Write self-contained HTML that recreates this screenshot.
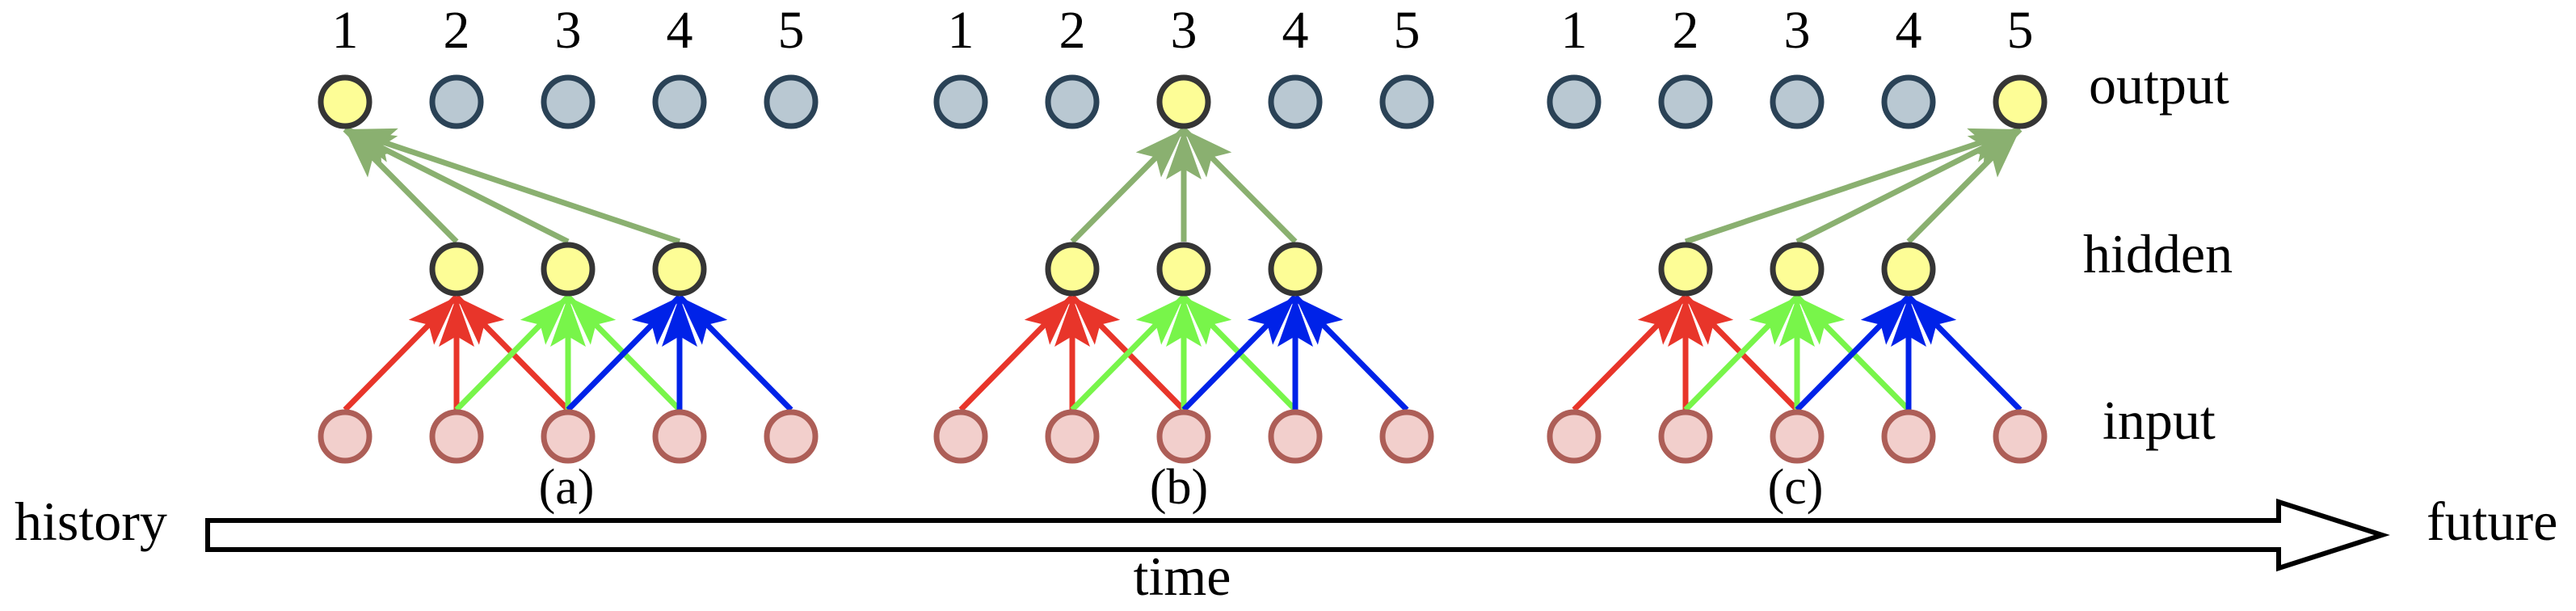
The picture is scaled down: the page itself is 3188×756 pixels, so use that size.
<!DOCTYPE html>
<html><head><meta charset="utf-8"><style>
html,body{margin:0;padding:0;background:#fff;}
svg{display:block;}
text{font-family:"Liberation Serif",serif;fill:#000;}
</style></head><body>
<svg width="3188" height="756" viewBox="0 0 3188 756" xmlns="http://www.w3.org/2000/svg">
<defs>
<marker id="mG" markerUnits="userSpaceOnUse" viewBox="-64 -24 66 48" refX="0" refY="0" markerWidth="66" markerHeight="48" orient="auto"><path d="M0,0 L-62,-22 L-49,0 L-62,22 Z" fill="#8ab070"/></marker>
<marker id="mR" markerUnits="userSpaceOnUse" viewBox="-64 -24 66 48" refX="0" refY="0" markerWidth="66" markerHeight="48" orient="auto"><path d="M0,0 L-62,-22 L-49,0 L-62,22 Z" fill="#e8352a"/></marker>
<marker id="mL" markerUnits="userSpaceOnUse" viewBox="-64 -24 66 48" refX="0" refY="0" markerWidth="66" markerHeight="48" orient="auto"><path d="M0,0 L-62,-22 L-49,0 L-62,22 Z" fill="#78f54a"/></marker>
<marker id="mB" markerUnits="userSpaceOnUse" viewBox="-64 -24 66 48" refX="0" refY="0" markerWidth="66" markerHeight="48" orient="auto"><path d="M0,0 L-62,-22 L-49,0 L-62,22 Z" fill="#0022e8"/></marker>
</defs>
<g id="all"></g>
<script>
(function(){
var NS="http://www.w3.org/2000/svg",g=document.getElementById("all");
function el(t,a,txt){var e=document.createElementNS(NS,t);for(var k in a)e.setAttribute(k,a[k]);if(txt)e.textContent=txt;g.appendChild(e);return e;}
var groups=[[427,0],[1189,2],[1948,4]],S=138,yO=126,yH=333,yI=540,R=30;
groups.forEach(function(gr){
 var x0=gr[0],act=gr[1];
 var cols=[["#e8352a","mR"],["#78f54a","mL"],["#0022e8","mB"]];
 // input->hidden
 for(var h=0;h<3;h++){
  var hx=x0+(h+1)*S;
  for(var d=-1;d<=1;d++){
   var ix=hx+d*S;
   el("line",{x1:ix,y1:yI-R-3,x2:hx,y2:yH+R+4,stroke:cols[h][0],"stroke-width":7,"marker-end":"url(#"+cols[h][1]+")"});
  }
 }
 var ox=x0+act*S;
 for(var h=0;h<3;h++){
  var hx=x0+(h+1)*S;
  el("line",{x1:hx,y1:yH-R-4,x2:ox,y2:yO+R+4,stroke:"#8ab070","stroke-width":7,"marker-end":"url(#mG)"});
 }
 for(var i=0;i<5;i++){
  var x=x0+i*S;
  el("text",{x:x,y:59,"font-size":66,"text-anchor":"middle"},String(i+1));
  if(i==act) el("circle",{cx:x,cy:yO,r:R,fill:"#fdfd96",stroke:"#353535","stroke-width":7});
  else el("circle",{cx:x,cy:yO,r:R,fill:"#b9c8d2",stroke:"#2a4256","stroke-width":7});
  el("circle",{cx:x,cy:yI,r:R,fill:"#f2cfcc",stroke:"#ad5e57","stroke-width":7});
 }
 for(var h=1;h<=3;h++) el("circle",{cx:x0+h*S,cy:yH,r:R,fill:"#fdfd96",stroke:"#353535","stroke-width":7});
});
el("text",{x:701,y:623,"font-size":62,"text-anchor":"middle"},"(a)");
el("text",{x:1459,y:623,"font-size":62,"text-anchor":"middle"},"(b)");
el("text",{x:2222,y:623,"font-size":62,"text-anchor":"middle"},"(c)");
el("text",{x:2585,y:128,"font-size":68},"output");
el("text",{x:2578,y:337,"font-size":68},"hidden");
el("text",{x:2602,y:543,"font-size":68},"input");
el("text",{x:18,y:668,"font-size":68},"history");
el("text",{x:3003,y:668,"font-size":68},"future");
el("text",{x:1463,y:736,"font-size":68,"text-anchor":"middle"},"time");
el("path",{d:"M257,644 L2820,644 L2820,621 L2948,662 L2820,703 L2820,680 L257,680 Z",fill:"#fff",stroke:"#000","stroke-width":6,"stroke-linejoin":"miter"});
})();
</script>
</svg>
</body></html>
